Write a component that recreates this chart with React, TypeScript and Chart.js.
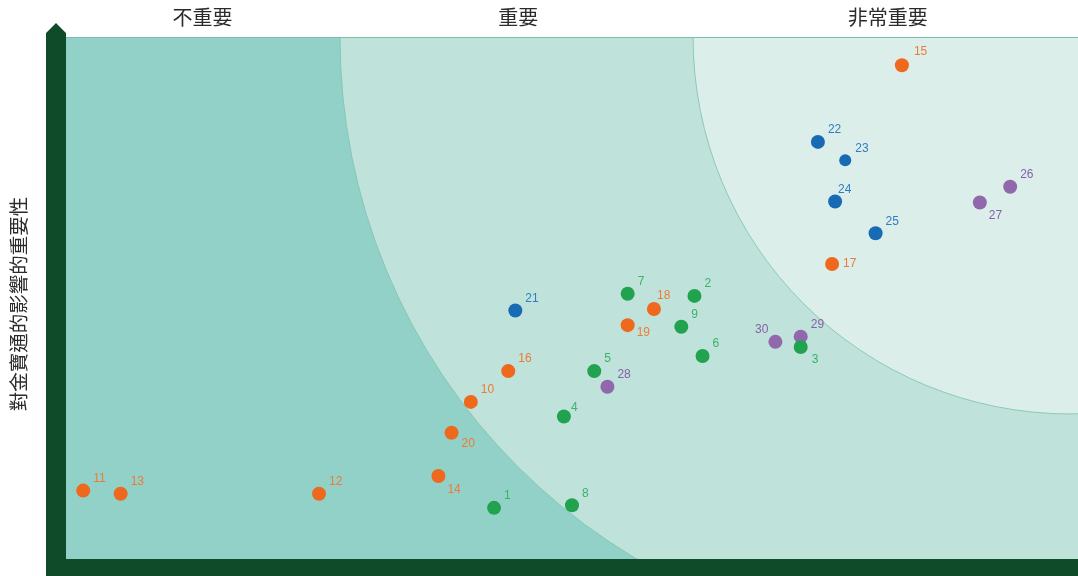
import React, { useEffect, useRef } from "react";
import { Chart, registerables } from "chart.js";

Chart.register(...registerables);

// ---- data (x: 重要程度 / y: 對金寶通的影響的重要性, both 0–100) ----
const greenIds = [1, 2, 3, 4, 5, 6, 7, 8, 9];
const greenX = [42.3, 62.1, 72.6, 49.2, 52.2, 62.9, 55.5, 50.0, 60.8];
const greenY = [9.8, 50.4, 40.6, 27.3, 36.0, 38.9, 50.8, 10.3, 44.5];

const orangeIds = [10, 11, 12, 13, 14, 15, 16, 17, 18, 19, 20];
const orangeX = [40.0, 1.7, 25.0, 5.4, 36.8, 82.6, 43.7, 75.7, 58.1, 55.5, 38.1];
const orangeY = [30.1, 13.1, 12.5, 12.5, 15.9, 94.6, 36.0, 56.5, 47.9, 44.8, 24.2];

const blueIds = [21, 22, 23, 24, 25];
const blueX = [44.4, 74.3, 77.0, 76.0, 80.0];
const blueY = [47.6, 79.9, 76.4, 68.5, 62.4];

const purpleIds = [26, 27, 28, 29, 30];
const purpleX = [93.3, 90.3, 53.5, 72.6, 70.1];
const purpleY = [71.3, 68.3, 33.0, 42.6, 41.6];

const zoneLabels = ["不重要", "重要", "非常重要"];
const yTitle = "對金寶通的影響的重要性";

// ---- styles ----
const groupColors = ["#21a24f", "#ee681d", "#176ab4", "#9168ab"];
const labelColors = ["#3bb26a", "#ef7a38", "#2f7dc0", "#8a5fa9"];
const zoneLabelX = [0.135, 0.447, 0.812]; // fraction of plot width
const labelOffsets: Record<number, [number, number, string]> = {
  3: [11, 13, "left"],
  4: [7, -9, "left"],
  14: [9, 14, "left"],
  15: [12, -14, "left"],
  17: [11, 0, "left"],
  18: [3, -13, "left"],
  19: [9, 8, "left"],
  20: [10, 11, "left"],
  24: [3, -12, "left"],
  27: [9, 13, "left"],
  30: [-7, -12, "right"],
};
const defaultOffset: [number, number, string] = [10, -12, "left"];

const groups = [
  { ids: greenIds, xs: greenX, ys: greenY },
  { ids: orangeIds, xs: orangeX, ys: orangeY },
  { ids: blueIds, xs: blueX, ys: blueY },
  { ids: purpleIds, xs: purpleX, ys: purpleY },
];

const cjk = '"Noto Sans CJK TC", "Noto Sans CJK SC", sans-serif';

const decor = {
  id: "decor",
  beforeDatasetsDraw(chart: any) {
    const { ctx, chartArea } = chart;
    const { left, top, right, bottom } = chartArea;
    const w = right - left;
    ctx.save();
    // base zone
    ctx.fillStyle = "#92d1c7";
    ctx.fillRect(left, top, w, bottom - top);
    ctx.beginPath();
    ctx.rect(left, top, w, bottom - top);
    ctx.clip();
    // middle zone
    ctx.beginPath();
    ctx.arc(left + 0.8696 * w, top + 1, 0.5988 * w, 0, Math.PI * 2);
    ctx.fillStyle = "#bfe2da";
    ctx.fill();
    ctx.strokeStyle = "#86c7b6";
    ctx.lineWidth = 1;
    ctx.stroke();
    // inner zone
    ctx.beginPath();
    ctx.arc(left + 0.9921 * w, top, 0.3725 * w, 0, Math.PI * 2);
    ctx.fillStyle = "#dbeeea";
    ctx.fill();
    ctx.strokeStyle = "#8ccab8";
    ctx.stroke();
    ctx.restore();

    ctx.save();
    // top edge line
    ctx.strokeStyle = "#7dbfae";
    ctx.lineWidth = 1;
    ctx.beginPath();
    ctx.moveTo(left, top + 0.5);
    ctx.lineTo(right, top + 0.5);
    ctx.stroke();
    // axes
    ctx.fillStyle = "#0f4b28";
    ctx.beginPath();
    ctx.moveTo(left - 20, chart.height);
    ctx.lineTo(left - 20, top - 4);
    ctx.lineTo(left - 10, top - 14);
    ctx.lineTo(left, top - 4);
    ctx.lineTo(left, bottom);
    ctx.lineTo(right, bottom);
    ctx.lineTo(right, chart.height);
    ctx.closePath();
    ctx.fill();
    // zone titles
    ctx.fillStyle = "#2b2b2b";
    ctx.font = `20px ${cjk}`;
    ctx.textAlign = "center";
    ctx.textBaseline = "middle";
    zoneLabels.forEach((t, i) => {
      ctx.fillText(t, left + zoneLabelX[i] * w, 17);
    });
    // y title
    ctx.translate(19, (top + bottom) / 2 + 6);
    ctx.rotate(-Math.PI / 2);
    ctx.font = `19.5px ${cjk}`;
    ctx.fillText(yTitle, 0, 0);
    ctx.restore();
  },
  afterDatasetsDraw(chart: any) {
    const { ctx } = chart;
    ctx.save();
    ctx.font = '12px "Liberation Sans", Arial, sans-serif';
    ctx.textBaseline = "middle";
    groups.forEach((g, gi) => {
      const meta = chart.getDatasetMeta(gi);
      ctx.fillStyle = labelColors[gi];
      meta.data.forEach((el: any, i: number) => {
        const id = g.ids[i];
        const [dx, dy, align] = labelOffsets[id] || defaultOffset;
        ctx.textAlign = align;
        ctx.fillText(String(id), el.x + dx, el.y + dy);
      });
    });
    ctx.restore();
  },
};

export default function App() {
  const ref = useRef<HTMLCanvasElement>(null);
  useEffect(() => {
    if (!ref.current) return;
    const chart = new Chart(ref.current, {
      type: "scatter",
      data: {
        datasets: groups.map((g, gi) => ({
          data: g.xs.map((x, i) => ({ x, y: g.ys[i] })),
          backgroundColor: groupColors[gi],
          borderWidth: 0,
          pointRadius: (c: any) => (g.ids[c.dataIndex] === 23 ? 6 : 7),
        })),
      },
      options: {
        animation: false,
        responsive: false,
        devicePixelRatio: 1,
        layout: { autoPadding: false, padding: { left: 66, top: 37, right: 0, bottom: 17 } },
        scales: {
          x: { type: "linear", min: 0, max: 100, display: false },
          y: { type: "linear", min: 0, max: 100, display: false },
        },
        plugins: { legend: { display: false }, tooltip: { enabled: false } },
      },
      plugins: [decor],
    } as any);
    return () => chart.destroy();
  }, []);
  return (
    <div style={{ position: "fixed", left: 0, top: 0, width: 1078, height: 576 }}>
      <canvas ref={ref} width={1078} height={576} />
    </div>
  );
}
